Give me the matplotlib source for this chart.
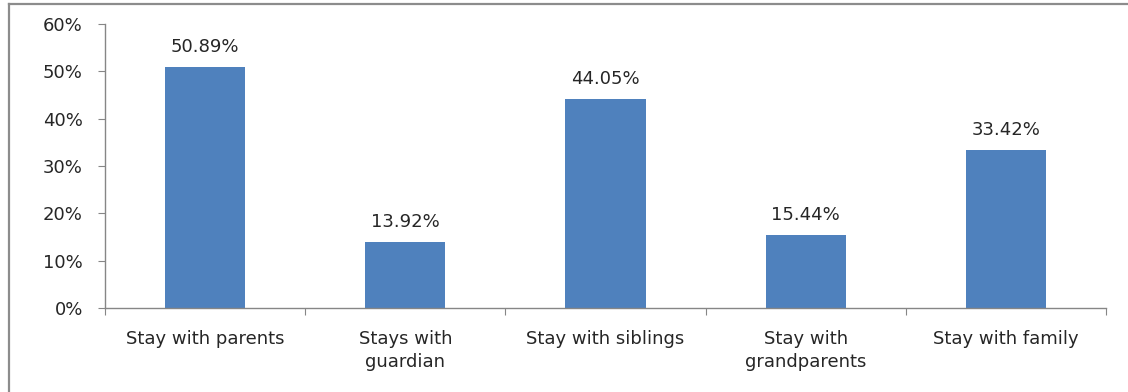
import matplotlib.pyplot as plt
from matplotlib.lines import Line2D
from matplotlib.ticker import FuncFormatter, MultipleLocator

CATEGORIES = [
    "Stay with parents",
    "Stays with\nguardian",
    "Stay with siblings",
    "Stay with\ngrandparents",
    "Stay with family",
]
VALUES = [50.89, 13.92, 44.05, 15.44, 33.42]

BAR_COLOR = "#4F81BD"
AXIS_COLOR = "#868686"
TEXT_COLOR = "#262626"
FONT_SIZE = 13

plt.rcParams["font.family"] = ["DejaVu Sans"]

fig = plt.figure(figsize=(11.28, 3.92), dpi=100)
ax = fig.add_axes([0.0931, 0.2143, 0.8874, 0.7245])

positions = range(len(CATEGORIES))
bars = ax.bar(positions, VALUES, width=0.4, color=BAR_COLOR)

for bar, value in zip(bars, VALUES):
    ax.annotate(
        f"{value:.2f}%",
        (bar.get_x() + bar.get_width() / 2, value),
        xytext=(0, 8),
        textcoords="offset points",
        ha="center",
        va="bottom",
        fontsize=FONT_SIZE,
        color=TEXT_COLOR,
    )

ax.set_xlim(-0.5, len(CATEGORIES) - 0.5)
ax.set_ylim(0, 60)
ax.yaxis.set_major_locator(MultipleLocator(10))
ax.yaxis.set_major_formatter(FuncFormatter(lambda v, _: f"{v:.0f}%"))

# category labels sit between the boundary ticks
ax.set_xticks([p - 0.5 for p in range(len(CATEGORIES) + 1)])
ax.set_xticklabels([])
ax.set_xticks(list(positions), minor=True)
ax.set_xticklabels(CATEGORIES, minor=True, fontsize=FONT_SIZE,
                   color=TEXT_COLOR, linespacing=1.35)
ax.tick_params(axis="x", which="minor", length=0, pad=16)
ax.tick_params(axis="x", which="major", length=5, color=AXIS_COLOR)
ax.tick_params(axis="y", length=5, color=AXIS_COLOR, labelsize=FONT_SIZE,
               labelcolor=TEXT_COLOR, pad=11)

for side in ("top", "right"):
    ax.spines[side].set_visible(False)
for side in ("left", "bottom"):
    ax.spines[side].set_color(AXIS_COLOR)
    ax.spines[side].set_linewidth(1.0)

# outer chart frame, left and top edges
frame_x = 8.5 / 1128
frame_y = 1 - 3.5 / 392
fig.add_artist(Line2D([frame_x, frame_x], [0, frame_y], color="#8c8c8c",
                      linewidth=1.6, transform=fig.transFigure))
fig.add_artist(Line2D([frame_x, 1], [frame_y, frame_y], color="#8c8c8c",
                      linewidth=1.6, transform=fig.transFigure))

fig.savefig("out.png", dpi=100)
